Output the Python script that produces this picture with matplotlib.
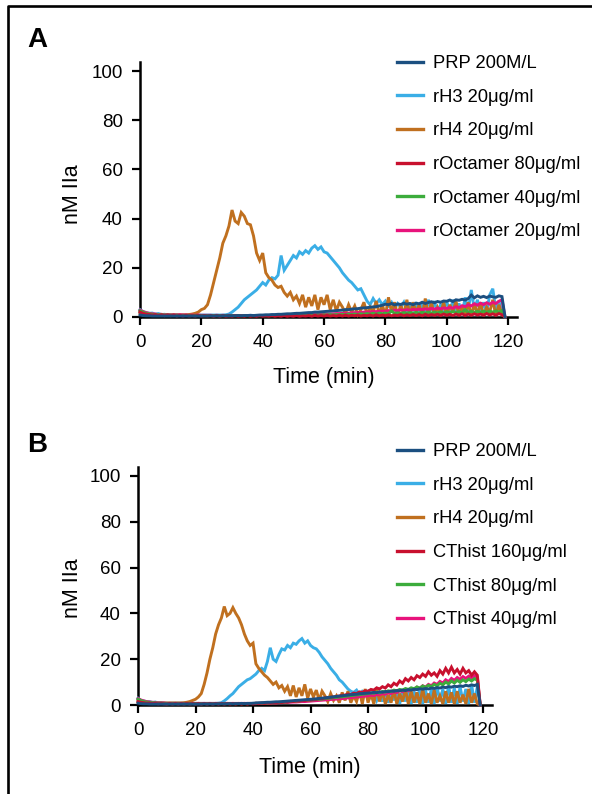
import matplotlib
matplotlib.use("Agg")
import matplotlib.pyplot as plt
from matplotlib.lines import Line2D

plt.rcParams['font.family'] = ['Liberation Sans', 'DejaVu Sans']

# ---------------- data ----------------
time_min = [
    0, 1, 2, 3, 4, 5, 6, 7, 8, 9, 10, 11, 12, 13, 14, 15, 16, 17, 18, 19,
    20, 21, 22, 23, 24, 25, 26, 27, 28, 29, 30, 31, 32, 33, 34, 35, 36, 37, 38, 39,
    40, 41, 42, 43, 44, 45, 46, 47, 48, 49, 50, 51, 52, 53, 54, 55, 56, 57, 58, 59,
    60, 61, 62, 63, 64, 65, 66, 67, 68, 69, 70, 71, 72, 73, 74, 75, 76, 77, 78, 79,
    80, 81, 82, 83, 84, 85, 86, 87, 88, 89, 90, 91, 92, 93, 94, 95, 96, 97, 98, 99,
    100, 101, 102, 103, 104, 105, 106, 107, 108, 109, 110, 111, 112, 113, 114, 115, 116, 117, 118, 119]

# Panel A
a_prp = [0.8, 0.6, 0.5, 0.5, 0.4, 0.4, 0.4, 0.4, 0.4, 0.4,
         0.4, 0.4, 0.4, 0.4, 0.4, 0.4, 0.4, 0.4, 0.4, 0.4,
         0.4, 0.4, 0.4, 0.5, 0.4, 0.5, 0.4, 0.5, 0.5, 0.5,
         0.5, 0.5, 0.6, 0.5, 0.6, 0.6, 0.7, 0.6, 0.7, 0.8,
         0.8, 0.9, 0.9, 1.0, 1.0, 1.1, 1.1, 1.2, 1.3, 1.3,
         1.4, 1.5, 1.5, 1.6, 1.7, 1.8, 1.8, 2.0, 2.0, 2.1,
         2.2, 2.3, 2.4, 2.5, 2.6, 2.7, 2.8, 3.0, 3.0, 3.2,
         3.3, 3.4, 3.6, 3.7, 3.8, 4.0, 4.1, 4.2, 4.5, 4.8,
         5.2, 5.0, 5.5, 4.9, 5.3, 5.1, 5.6, 5.2, 5.5, 5.0,
         5.6, 5.4, 6.0, 5.5, 5.9, 6.2, 5.8, 6.3, 6.0, 6.5,
         6.4, 6.9, 6.3, 7.0, 6.8, 7.2, 6.9, 7.5, 8.9, 7.8,
         8.6, 8.0, 8.4, 7.9, 8.5, 8.2, 8.0, 8.6, 8.3, 0.0]
a_h3 = [3.0, 2.2, 1.8, 1.5, 1.6, 1.2, 1.4, 1.0, 1.1, 0.9,
        0.9, 0.8, 0.9, 0.8, 0.8, 0.8, 0.8, 0.8, 0.8, 0.8,
        0.8, 0.8, 0.8, 0.8, 0.8, 0.8, 0.8, 0.8, 0.9, 1.2,
        2.0, 3.0, 4.0, 5.5, 7.0, 8.0, 9.0, 10.0, 11.0, 12.5,
        14.0, 13.0, 15.0, 16.0, 15.5, 17.0, 25.0, 19.0, 21.0, 23.0,
        25.0, 24.0, 26.5, 25.5, 27.0, 26.0, 28.0, 29.0, 27.5, 28.5,
        26.5, 26.0, 24.5, 23.0, 21.5, 20.0, 18.0, 16.5, 15.0, 14.0,
        12.5, 11.0, 11.5, 9.0, 6.5, 5.0, 7.5, 5.5, 7.0, 5.0,
        6.5, 4.5, 6.0, 3.5, 5.5, 4.0, 6.0, 2.5, 5.0, 3.0,
        6.0, 2.0, 5.5, 1.5, 7.0, 2.5, 6.5, 1.0, 5.0, 3.0,
        6.5, 1.5, 7.0, 2.0, 5.5, 1.0, 8.0, 2.5, 11.0, 3.0,
        7.0, 1.5, 6.0, 2.0, 9.0, 11.5, 3.0, 6.5, 2.0, 0.0]
a_h4 = [1.5, 1.3, 1.2, 1.0, 1.0, 1.0, 0.9, 0.9, 0.9, 0.9,
        0.9, 0.9, 0.9, 0.9, 0.9, 0.9, 1.0, 1.2, 1.5, 2.0,
        3.0, 3.5, 5.0, 9.0, 14.0, 19.0, 24.0, 30.0, 33.0, 37.0,
        43.5, 39.0, 38.0, 42.5, 41.0, 38.0, 37.5, 33.0, 26.0, 23.0,
        26.0, 18.0, 16.0, 15.0, 13.0, 12.0, 12.5, 10.0, 8.5, 10.0,
        7.0, 8.5, 5.5, 9.0, 4.0, 8.0, 4.5, 9.0, 3.0, 8.0,
        5.0, 9.0, 3.0, 7.0, 2.5, 6.0, 4.0, 1.5, 5.0, 2.0,
        4.5, 1.0, 3.0, 6.0, 1.0, 4.0, 2.0, 6.5, 1.0, 5.0,
        0.5, 8.0, 2.0, 6.0, 0.5, 5.0, 1.0, 7.0, 0.5, 6.0,
        2.0, 5.0, 0.5, 7.5, 1.0, 6.0, 0.5, 4.0, 1.5, 6.0,
        0.5, 5.0, 2.0, 6.5, 0.5, 4.5, 1.0, 6.0, 0.5, 5.5,
        1.0, 6.0, 0.5, 4.0, 2.0, 7.0, 0.5, 5.0, 1.0, 0.0]
a_oct80 = [2.0, 1.5, 1.2, 1.0, 0.8, 1.0, 0.6, 0.9, 0.5, 0.8,
           0.5, 0.8, 0.4, 0.7, 0.4, 0.7, 0.4, 0.6, 0.4, 0.7,
           0.4, 0.6, 0.4, 0.6, 0.3, 0.6, 0.3, 0.6, 0.3, 0.5,
           0.3, 0.6, 0.3, 0.5, 0.3, 0.6, 0.3, 0.5, 0.3, 0.6,
           0.3, 0.5, 0.3, 0.6, 0.3, 0.5, 0.3, 0.6, 0.3, 0.5,
           0.3, 0.6, 0.3, 0.5, 0.4, 0.6, 0.3, 0.7, 0.4, 0.6,
           0.4, 0.7, 0.4, 0.6, 0.4, 0.7, 0.4, 0.8, 0.4, 0.7,
           0.5, 0.8, 0.4, 0.7, 0.5, 0.8, 0.4, 0.9, 0.5, 0.8,
           0.5, 0.9, 0.5, 0.8, 0.6, 1.0, 0.5, 0.9, 0.6, 1.0,
           0.6, 1.0, 0.5, 1.1, 0.6, 1.0, 0.7, 1.1, 0.6, 1.2,
           0.7, 1.1, 0.6, 1.2, 0.7, 1.3, 0.6, 1.2, 0.7, 1.3,
           0.8, 1.2, 0.7, 1.4, 0.8, 1.3, 0.7, 1.4, 0.9, 0.0]
a_oct40 = [2.5, 2.0, 1.5, 1.3, 1.1, 1.0, 0.9, 0.9, 0.8, 0.8,
           0.7, 0.7, 0.7, 0.6, 0.6, 0.6, 0.6, 0.6, 0.6, 0.6,
           0.6, 0.5, 0.6, 0.5, 0.6, 0.5, 0.6, 0.5, 0.6, 0.5,
           0.6, 0.5, 0.6, 0.5, 0.6, 0.5, 0.6, 0.5, 0.6, 0.5,
           0.6, 0.5, 0.6, 0.5, 0.6, 0.6, 0.7, 0.6, 0.7, 0.6,
           0.7, 0.6, 0.8, 0.6, 0.8, 0.7, 0.8, 0.7, 0.9, 0.7,
           0.9, 0.8, 1.0, 0.8, 1.0, 0.9, 1.1, 0.9, 1.2, 1.0,
           1.2, 1.0, 1.3, 1.1, 1.4, 1.2, 1.5, 1.2, 1.6, 1.3,
           1.6, 1.3, 2.5, 1.4, 1.7, 1.4, 1.8, 1.5, 1.8, 1.5,
           1.9, 1.5, 1.9, 1.6, 2.0, 1.6, 2.0, 1.6, 2.1, 1.7,
           2.1, 1.7, 2.2, 1.8, 2.2, 1.8, 3.0, 1.8, 2.3, 1.9,
           2.3, 1.9, 2.4, 1.9, 2.4, 2.0, 2.5, 2.0, 2.6, 0.0]
a_oct20 = [2.8, 2.2, 1.8, 1.5, 1.3, 1.2, 1.0, 1.1, 0.9, 1.0,
           0.8, 0.9, 0.8, 0.9, 0.8, 0.8, 0.7, 0.8, 0.7, 0.8,
           0.7, 0.7, 0.7, 0.7, 0.6, 0.7, 0.6, 0.7, 0.6, 0.7,
           0.6, 0.6, 0.6, 0.6, 0.6, 0.6, 0.6, 0.6, 0.6, 0.6,
           0.6, 0.6, 0.6, 0.7, 0.6, 0.7, 0.7, 0.7, 0.7, 0.8,
           0.8, 0.8, 0.9, 0.9, 0.9, 1.0, 1.0, 1.0, 1.1, 1.1,
           1.2, 1.2, 1.3, 1.3, 1.4, 1.4, 1.5, 1.5, 1.6, 1.7,
           1.8, 1.8, 1.9, 2.0, 2.0, 2.1, 2.2, 2.2, 2.3, 2.4,
           2.3, 2.6, 2.4, 2.8, 2.5, 2.9, 2.6, 3.0, 2.7, 3.1,
           2.9, 3.2, 3.0, 3.3, 3.1, 3.5, 3.2, 3.6, 3.3, 3.7,
           3.5, 3.9, 3.6, 4.2, 3.8, 4.6, 4.2, 5.0, 4.5, 5.4,
           4.8, 5.6, 5.0, 5.8, 5.2, 6.0, 5.5, 6.4, 7.0, 0.0]

# Panel B
b_prp = [0.8, 0.6, 0.5, 0.5, 0.4, 0.4, 0.4, 0.4, 0.4, 0.4,
         0.4, 0.4, 0.4, 0.4, 0.4, 0.4, 0.4, 0.4, 0.4, 0.4,
         0.4, 0.4, 0.4, 0.5, 0.4, 0.5, 0.4, 0.5, 0.5, 0.5,
         0.5, 0.5, 0.6, 0.5, 0.6, 0.6, 0.7, 0.6, 0.7, 0.7,
         0.8, 0.9, 1.0, 1.0, 1.1, 1.2, 1.2, 1.3, 1.4, 1.4,
         1.5, 1.6, 1.7, 1.8, 1.9, 2.0, 2.1, 2.2, 2.3, 2.4,
         2.5, 2.6, 2.7, 2.9, 3.0, 3.1, 3.3, 3.4, 3.6, 3.7,
         3.9, 4.0, 4.2, 4.3, 4.5, 4.6, 4.7, 4.9, 5.0, 5.1,
         5.2, 5.3, 5.5, 5.4, 5.7, 5.6, 5.9, 5.8, 6.1, 6.0,
         6.3, 6.2, 6.5, 6.3, 6.7, 6.5, 6.9, 6.7, 7.1, 6.9,
         7.2, 7.0, 7.4, 7.2, 7.6, 7.4, 7.8, 7.6, 8.0, 7.8,
         8.2, 8.0, 8.4, 8.1, 8.6, 8.3, 8.8, 8.5, 9.0, 0.0]
b_h3 = [3.0, 2.0, 1.8, 1.4, 1.5, 1.1, 1.3, 0.9, 1.0, 0.8,
        0.8, 0.8, 0.8, 0.8, 0.8, 0.8, 0.8, 0.8, 0.8, 0.8,
        0.7, 0.7, 0.7, 0.7, 0.7, 0.7, 0.7, 0.7, 0.8, 1.0,
        1.8, 2.8, 4.0, 5.0, 6.5, 8.0, 9.0, 10.0, 11.0, 11.5,
        12.5, 13.5, 15.0, 16.0, 15.0, 19.0, 25.0, 20.0, 19.0, 22.0,
        24.5, 24.0, 26.0, 25.0, 27.0, 26.5, 28.0, 29.0, 27.0, 28.0,
        26.0, 25.0, 24.5, 23.0, 21.0, 19.5, 18.0, 16.0, 14.5, 13.0,
        11.0, 10.0, 8.5, 7.0, 6.0, 5.5, 6.5, 4.5, 6.0, 5.0,
        6.0, 3.5, 5.5, 2.0, 5.0, 1.5, 6.0, 1.0, 5.5, 2.0,
        6.5, 0.5, 6.0, 1.5, 7.0, 0.5, 6.0, 1.0, 7.5, 0.5,
        6.5, 1.0, 7.0, 0.5, 8.0, 1.5, 7.0, 0.5, 8.5, 1.0,
        7.5, 0.5, 8.0, 1.5, 7.0, 0.5, 9.0, 1.0, 8.0, 0.0]
b_h4 = [1.5, 1.3, 1.2, 1.0, 1.0, 1.0, 0.9, 0.9, 0.9, 0.9,
        0.9, 0.9, 0.9, 0.9, 0.9, 0.9, 1.0, 1.2, 1.5, 2.0,
        2.5, 3.5, 5.0, 9.0, 14.0, 20.0, 25.0, 31.0, 35.0, 38.0,
        43.0, 39.0, 40.0, 42.5, 40.0, 38.0, 35.0, 31.0, 28.0, 26.0,
        27.0, 18.0, 16.0, 14.5, 13.0, 12.0, 10.5, 9.0, 10.0, 7.5,
        8.5, 6.0, 8.0, 4.0, 8.5, 3.5, 7.5, 4.0, 9.0, 3.0,
        7.0, 3.5, 6.5, 2.0, 6.0, 4.0, 1.5, 5.0, 2.0, 4.0,
        1.0, 5.5, 2.0, 6.0, 1.0, 4.0, 1.5, 6.0, 0.5, 7.0,
        1.0, 5.0, 0.5, 7.5, 1.5, 6.0, 0.5, 4.5, 1.0, 6.5,
        0.5, 5.0, 1.5, 7.0, 0.5, 6.0, 1.0, 5.5, 0.5, 7.0,
        1.0, 5.0, 0.5, 6.5, 1.0, 4.0, 0.5, 6.0, 1.0, 5.5,
        0.5, 6.0, 1.0, 4.5, 0.5, 7.0, 1.0, 5.0, 0.5, 0.0]
b_ct160 = [1.5, 1.2, 1.0, 0.8, 0.9, 0.6, 0.8, 0.5, 0.7, 0.5,
           0.4, 0.7, 0.4, 0.7, 0.4, 0.7, 0.4, 0.7, 0.4, 0.7,
           0.4, 0.7, 0.4, 0.7, 0.4, 0.7, 0.4, 0.7, 0.4, 0.7,
           0.4, 0.7, 0.4, 0.7, 0.4, 0.7, 0.4, 0.7, 0.4, 0.7,
           0.5, 0.8, 0.6, 0.9, 0.7, 1.0, 0.8, 1.1, 0.9, 1.2,
           1.1, 1.4, 1.3, 1.6, 1.5, 1.8, 1.7, 2.0, 1.9, 2.2,
           2.2, 2.5, 2.5, 2.8, 2.8, 3.1, 3.1, 3.4, 3.5, 3.8,
           3.9, 4.3, 4.3, 4.8, 4.6, 5.2, 5.0, 5.7, 5.5, 6.2,
           6.0, 6.8, 6.5, 7.5, 7.0, 8.0, 7.4, 8.8, 8.0, 9.5,
           8.7, 10.5, 9.5, 11.5, 10.5, 12.0, 11.0, 12.8, 12.0, 13.5,
           12.5, 14.5, 13.0, 14.0, 12.5, 15.0, 13.5, 16.0, 14.0, 16.5,
           14.0, 15.5, 13.5, 16.0, 14.0, 15.0, 13.0, 14.5, 13.0, 0.0]
b_ct80 = [2.5, 2.0, 1.5, 1.3, 1.1, 1.0, 0.9, 0.8, 0.8, 0.7,
          0.6, 0.6, 0.6, 0.6, 0.6, 0.6, 0.6, 0.6, 0.6, 0.6,
          0.6, 0.6, 0.6, 0.6, 0.6, 0.6, 0.6, 0.6, 0.6, 0.6,
          0.6, 0.6, 0.6, 0.6, 0.6, 0.6, 0.6, 0.6, 0.6, 0.6,
          0.6, 0.7, 0.7, 0.8, 0.8, 0.9, 0.9, 1.0, 1.0, 1.1,
          1.2, 1.3, 1.4, 1.5, 1.6, 1.7, 1.8, 1.9, 2.0, 2.1,
          2.2, 2.3, 2.4, 2.5, 2.6, 2.8, 2.9, 3.0, 3.2, 3.3,
          3.5, 3.6, 3.8, 3.9, 4.1, 4.2, 4.4, 4.5, 4.7, 4.8,
          5.0, 5.3, 5.1, 5.6, 5.3, 5.9, 5.6, 6.2, 5.9, 6.5,
          6.2, 6.8, 6.5, 7.2, 6.8, 7.5, 7.1, 7.9, 7.4, 8.3,
          7.7, 8.6, 8.0, 9.0, 8.4, 9.5, 8.8, 10.0, 9.2, 10.5,
          9.6, 10.8, 9.9, 11.0, 10.2, 11.3, 10.5, 11.5, 10.8, 0.0]
b_ct40 = [2.8, 2.2, 1.8, 1.5, 1.3, 1.2, 1.0, 1.0, 0.9, 0.9,
          0.7, 0.7, 0.7, 0.7, 0.7, 0.7, 0.7, 0.7, 0.7, 0.7,
          0.7, 0.7, 0.7, 0.7, 0.7, 0.7, 0.7, 0.7, 0.7, 0.7,
          0.7, 0.7, 0.7, 0.7, 0.7, 0.7, 0.7, 0.7, 0.7, 0.7,
          0.6, 0.6, 0.7, 0.7, 0.8, 0.8, 0.8, 0.9, 0.9, 1.0,
          1.0, 1.1, 1.1, 1.2, 1.3, 1.3, 1.4, 1.5, 1.5, 1.6,
          1.7, 1.8, 1.9, 2.0, 2.1, 2.2, 2.3, 2.4, 2.5, 2.6,
          2.7, 2.8, 3.0, 3.1, 3.2, 3.4, 3.5, 3.6, 3.8, 3.9,
          4.0, 4.3, 4.1, 4.6, 4.4, 5.0, 4.7, 5.4, 5.0, 5.8,
          5.4, 6.2, 5.8, 6.7, 6.2, 7.2, 6.7, 7.8, 7.2, 8.4,
          7.8, 9.0, 8.4, 9.6, 9.0, 10.3, 9.6, 11.0, 10.2, 11.6,
          10.8, 12.0, 11.2, 12.4, 11.6, 12.6, 11.8, 12.8, 12.0, 0.0]

labels_a = ["PRP 200M/L", "rH3 20\u03bcg/ml", "rH4 20\u03bcg/ml",
            "rOctamer 80\u03bcg/ml", "rOctamer 40\u03bcg/ml", "rOctamer 20\u03bcg/ml"]
labels_b = ["PRP 200M/L", "rH3 20\u03bcg/ml", "rH4 20\u03bcg/ml",
            "CThist 160\u03bcg/ml", "CThist 80\u03bcg/ml", "CThist 40\u03bcg/ml"]
x_ticks = [0, 20, 40, 60, 80, 100, 120]
y_ticks = [0, 20, 40, 60, 80, 100]

# ---------------- style ----------------
C_PRP = "#1b4f80"
C_H3 = "#3aaee6"
C_H4 = "#c0701f"
C_RED = "#c8102e"
C_GREEN = "#3cac3c"
C_PINK = "#e8137c"
colors = [C_PRP, C_H3, C_H4, C_RED, C_GREEN, C_PINK]

W, H = 592, 794
fig = plt.figure(figsize=(W / 100, H / 100), dpi=100)

LW = 2.1
TICK_FS = 13.5
LEG_FS = 13.2
LAB_FS = 15.5


def fx(px):
    return px / W


def fy(py):
    return 1 - py / H


def make_panel(rect, series, labels, xmax, ymax, leg_xy, lab_x, lab_y):
    ax = fig.add_axes(rect)
    draw_order = [1, 2, 5, 4, 3, 0]
    for i in draw_order:
        ax.plot(time_min, series[i], color=colors[i], lw=LW,
                solid_joinstyle='miter', clip_on=False)
    ax.set_xlim(0, xmax)
    ax.set_ylim(0, ymax)
    ax.set_xticks(x_ticks)
    ax.set_yticks(y_ticks)
    for s in ["top", "right"]:
        ax.spines[s].set_visible(False)
    for s in ["left", "bottom"]:
        ax.spines[s].set_linewidth(1.8)
        ax.spines[s].set_zorder(1)
    ax.tick_params(axis='both', direction='out', length=6, width=1.6,
                   labelsize=TICK_FS, pad=6.5)
    ax.set_xlabel("Time (min)", fontsize=LAB_FS)
    ax.set_ylabel("nM IIa", fontsize=LAB_FS)
    ax.xaxis.set_label_coords(fx(lab_x[0]), fy(lab_x[1]), transform=fig.transFigure)
    ax.xaxis.label.set_va('center')
    ax.yaxis.set_label_coords(fx(lab_y[0]), fy(lab_y[1]), transform=fig.transFigure)
    ax.yaxis.label.set_va('center')
    leg_handles = [Line2D([0], [0], color=colors[i], lw=2.4) for i in range(6)]
    ax.legend(leg_handles, labels, loc='upper left',
              bbox_to_anchor=(fx(leg_xy[0]), fy(leg_xy[1])),
              bbox_transform=fig.transFigure, frameon=False,
              fontsize=LEG_FS, handlelength=1.4, handletextpad=0.55,
              labelspacing=0.91, borderpad=0, borderaxespad=0)
    return ax


# Panel A: x 0 -> px 140, 120 -> px 508 ; y 0 -> px 317, 100 -> px 71
make_panel([fx(140), fy(317), fx(517) - fx(140), fy(62) - fy(317)],
           [a_prp, a_h3, a_h4, a_oct80, a_oct40, a_oct20], labels_a,
           122.9, 103.7, (397, 55), (324, 378), (72, 194))
# Panel B: x 0 -> px 138, 120 -> px 483 ; y 0 -> px 705, 100 -> px 476
make_panel([fx(138), fy(705), fx(492) - fx(138), fy(467) - fy(705)],
           [b_prp, b_h3, b_h4, b_ct160, b_ct80, b_ct40], labels_b,
           123.1, 103.9, (397, 443), (310, 767), (72, 588))

fig.text(fx(27), fy(47), "A", fontsize=20, fontweight='bold', ha='left', va='baseline')
fig.text(fx(27), fy(452), "B", fontsize=20, fontweight='bold', ha='left', va='baseline')

# outer frame (left and top edges)
fig.add_artist(Line2D([fx(8), fx(8), 1.0], [0.0, fy(6), fy(6)],
                      transform=fig.transFigure, color='black', lw=1.9))

fig.savefig("out.png", dpi=100)
